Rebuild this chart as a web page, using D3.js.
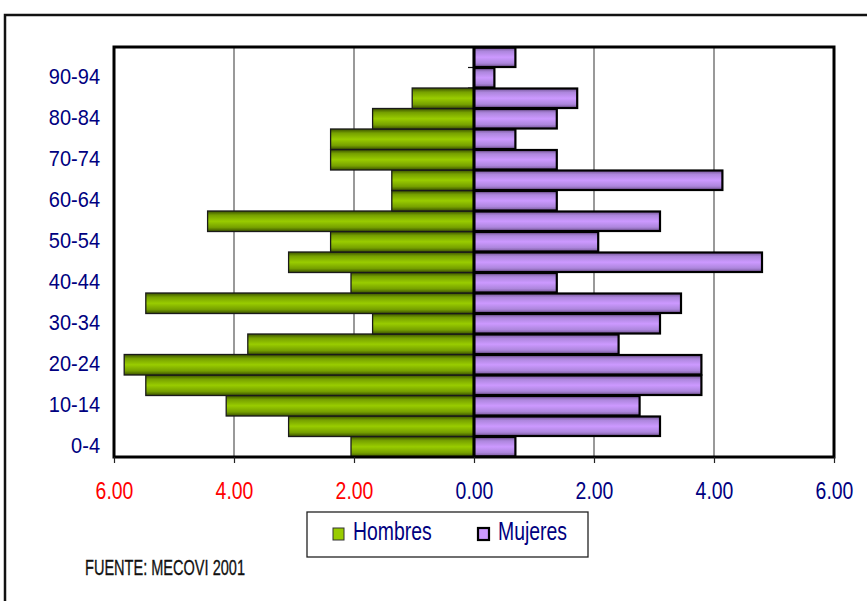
<!DOCTYPE html>
<html>
<head>
<meta charset="utf-8">
<script src="https://cdn.jsdelivr.net/npm/d3@7"></script>
<style>
  html, body { margin: 0; padding: 0; background: #fff; }
  svg { display: block; }
  text { font-family: "Liberation Sans", Arial, sans-serif; }
</style>
</head>
<body>
<svg id="chart" width="867" height="601"></svg>
<script>
// ---- data ----
const categories = ["0-4","5-9","10-14","15-19","20-24","25-29","30-34","35-39","40-44","45-49",
                    "50-54","55-59","60-64","65-69","70-74","75-79","80-84","85-89","90-94","95+"];
const hombres = [2.05, 3.09, 4.13, 5.47, 5.83, 3.77, 1.69, 5.47, 2.05, 3.09,
                 2.39, 4.44, 1.37, 1.37, 2.39, 2.39, 1.69, 1.03, 0, 0];
const mujeres = [0.69, 3.10, 2.76, 3.79, 3.79, 2.41, 3.10, 3.45, 1.38, 4.80,
                 2.07, 3.10, 1.38, 4.14, 1.38, 0.69, 1.38, 1.72, 0.34, 0.69];
const yLabels = ["0-4","10-14","20-24","30-34","40-44","50-54","60-64","70-74","80-84","90-94"];
const xTicks = [-6, -4, -2, 0, 2, 4, 6];
const gridTicks = [-4, -2, 2, 4];
const seriesNames = ["Hombres", "Mujeres"];
const source = "FUENTE:  MECOVI 2001";

// ---- layout ----
const svg = d3.select("#chart");
const L = 114, R = 834, T = 47, B = 457;
const x = d3.scaleLinear().domain([-6, 6]).range([L, R]);
const y = d3.scaleBand().domain(categories).range([B, T]).padding(0);

// gradients
const defs = svg.append("defs");
function grad(id, dark, mid, light) {
  const g = defs.append("linearGradient").attr("id", id)
    .attr("x1", 0).attr("y1", 0).attr("x2", 0).attr("y2", 1);
  [[0, dark],[0.2, mid],[0.5, light],[0.8, mid],[1, dark]].forEach(([o,c]) =>
    g.append("stop").attr("offset", o).attr("stop-color", c));
}
grad("gGreen", "#3a5000", "#76a000", "#99cc00");
grad("gPurple", "#735494", "#ad86dd", "#cc99ff");

// outer frame
svg.append("path").attr("d", "M5,601 V15 H867")
  .attr("fill", "none").attr("stroke", "#111").attr("stroke-width", 2.5);

// gridlines
svg.append("g").selectAll("line").data(gridTicks).join("line")
  .attr("x1", d => x(d)).attr("x2", d => x(d))
  .attr("y1", T).attr("y2", B)
  .attr("stroke", "#555").attr("stroke-width", 1.2);

// category ticks on center axis (band boundaries)
svg.append("g").selectAll("line").data(categories).join("line")
  .attr("x1", x(0) - 6).attr("x2", x(0))
  .attr("y1", d => y(d)).attr("y2", d => y(d))
  .attr("stroke", "#111").attr("stroke-width", 1.2);

// men bars
svg.append("g").selectAll("rect").data(categories.map((c,i) => ({c, v: hombres[i]})).filter(d => d.v > 0))
  .join("rect")
  .attr("x", d => x(-d.v)).attr("width", d => x(0) - x(-d.v))
  .attr("y", d => y(d.c)).attr("height", y.bandwidth())
  .attr("fill", "url(#gGreen)").attr("stroke", "#1a1a1a").attr("stroke-width", 1.3);

// women bars
svg.append("g").selectAll("rect").data(categories.map((c,i) => ({c, v: mujeres[i]})))
  .join("rect")
  .attr("x", x(0)).attr("width", d => x(d.v) - x(0))
  .attr("y", d => y(d.c) + 0.5).attr("height", y.bandwidth() - 1)
  .attr("fill", "url(#gPurple)").attr("stroke", "#000").attr("stroke-width", 2.2);

// center axis
svg.append("line").attr("x1", x(0)).attr("x2", x(0)).attr("y1", T).attr("y2", B)
  .attr("stroke", "#000").attr("stroke-width", 3);

// plot frame
svg.append("rect").attr("x", L).attr("y", T).attr("width", R - L).attr("height", B - T)
  .attr("fill", "none").attr("stroke", "#000").attr("stroke-width", 3);

// x axis ticks + labels
const xAxis = d3.axisBottom(x).tickValues(xTicks).tickSize(6).tickFormat(d => Math.abs(d).toFixed(2));
const gx = svg.append("g").attr("transform", `translate(0,${B})`).call(xAxis);
gx.select(".domain").remove();
gx.selectAll(".tick line").attr("stroke", "#222").attr("stroke-width", 1.2);
gx.selectAll(".tick text")
  .attr("y", 0).attr("dy", 0)
  .attr("transform", "translate(0,42) scale(0.97,1.2)")
  .attr("font-size", 20)
  .attr("font-family", "'Liberation Sans', Arial, sans-serif")
  .attr("fill", d => d < 0 ? "#ff0000" : "#000080");

// y labels
const gy = svg.append("g");
gy.selectAll("text").data(yLabels).join("text")
  .attr("transform", d => `translate(100,${y(d) + y.bandwidth() / 2 + 6}) scale(1,1.1)`)
  .attr("text-anchor", "end").attr("font-size", 20).attr("fill", "#000080")
  .text(d => d);

// legend
const lg = svg.append("g");
lg.append("rect").attr("x", 307).attr("y", 512).attr("width", 281).attr("height", 45)
  .attr("fill", "#fff").attr("stroke", "#222").attr("stroke-width", 1.3);
const legendItems = [
  {name: seriesNames[0], fill: "#99cc00", stroke: "#333", sw: 1, sx: 333, tx: 353},
  {name: seriesNames[1], fill: "#cc99ff", stroke: "#000", sw: 2.2, sx: 478, tx: 498}
];
legendItems.forEach(it => {
  lg.append("rect").attr("x", it.sx).attr("y", 528).attr("width", 11).attr("height", 12)
    .attr("fill", it.fill).attr("stroke", it.stroke).attr("stroke-width", it.sw);
  lg.append("text").attr("transform", `translate(${it.tx},540) scale(0.97,1.25)`)
    .attr("font-size", 20).attr("fill", "#000080").text(it.name);
});

// source
svg.append("text").attr("transform", "translate(85,575) scale(1,1.1)")
  .attr("font-size", 20).attr("fill", "#111")
  .attr("stroke", "#111").attr("stroke-width", 0.3)
  .attr("textLength", 160).attr("lengthAdjust", "spacingAndGlyphs")
  .text(source);
</script>
</body>
</html>
